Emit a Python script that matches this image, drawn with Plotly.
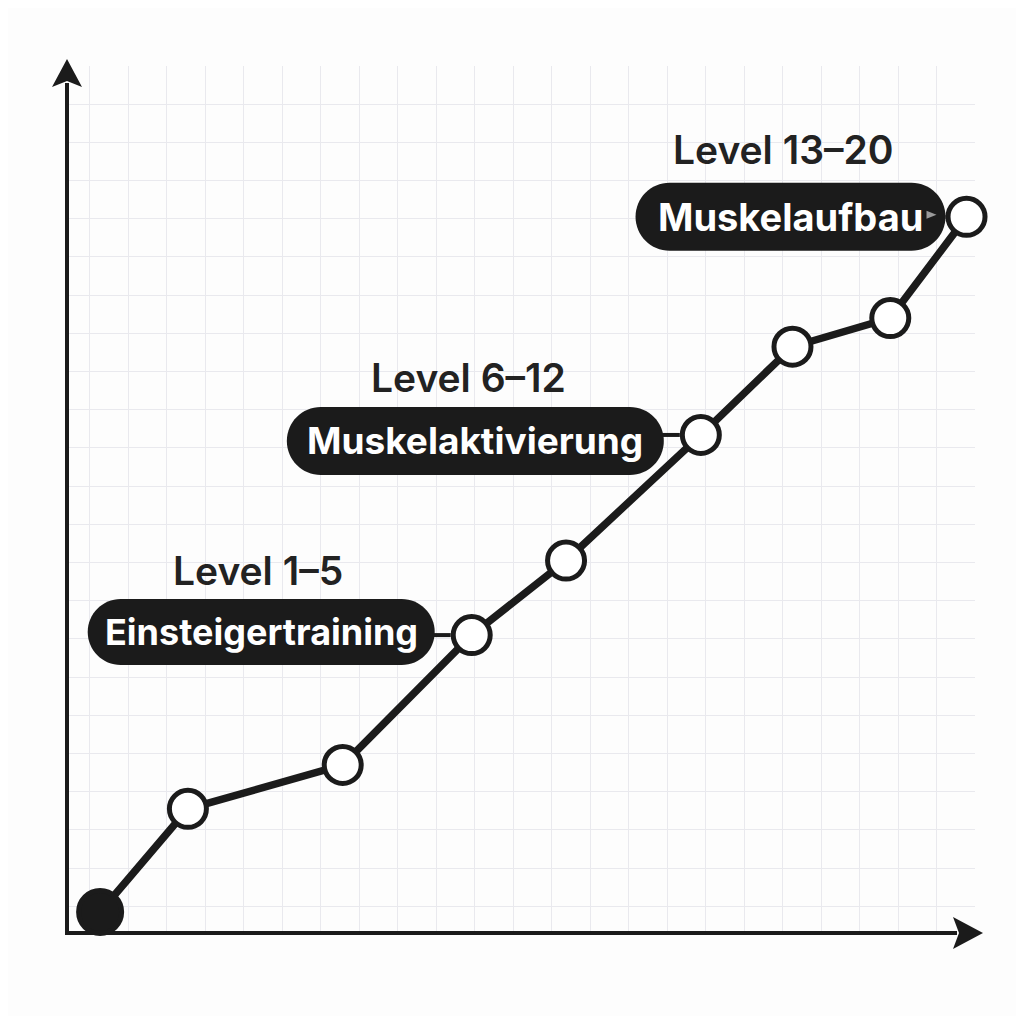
import plotly.graph_objects as go

# ---- data (grid units) ----
x_vals = [0.27, 2.55, 6.57, 9.92, 12.37, 15.87, 18.25, 20.79, 22.77]
y_vals = [-0.15, 2.55, 3.70, 7.10, 9.05, 12.34, 14.65, 15.40, 18.05]
stage_names = ["Einsteigertraining", "Muskelaktivierung", "Muskelaufbau"]
stage_levels = ["Level 1–5", "Level 6–12", "Level 13–20"]
stage_point_idx = [3, 5, 8]

INK = "#1b1b1b"
FONT = "Inter"

fig = go.Figure()

# line with open markers
fig.add_trace(go.Scatter(
    x=x_vals, y=y_vals, mode="lines+markers",
    line=dict(color=INK, width=7.5),
    marker=dict(size=[43] + [37] * (len(x_vals) - 1),
                color=[INK] + ["white"] * (len(x_vals) - 1),
                opacity=1,
                line=dict(color=INK, width=5)),
    cliponaxis=False, hoverinfo="skip", showlegend=False,
))

def pill_path(L, R, yc, h):
    r = h
    k = 0.5523 * r
    return (f"M {L+r},{yc+h} L {R-r},{yc+h} "
            f"C {R-r+k},{yc+h} {R},{yc+k} {R},{yc} "
            f"C {R},{yc-k} {R-r+k},{yc-h} {R-r},{yc-h} "
            f"L {L+r},{yc-h} "
            f"C {L+r-k},{yc-h} {L},{yc-k} {L},{yc} "
            f"C {L},{yc+k} {L+r-k},{yc+h} {L+r},{yc+h} Z")

# pill geometry relative to the attached point (pixels; y up)
pill_geo = [  # (left, right, y-center, half-height)
    (-384, -37, 3, 33),
    (-414, -37, -6, 34),
    (-331, -21, 0, 34),
]
level_shift = [(-214, 65), (-232, 57), (-184, 67)]
name_sizes = [36, 37, 38]

shapes = []
annotations = []
for i, idx in enumerate(stage_point_idx):
    px, py = x_vals[idx], y_vals[idx]
    L, R, yc, h = pill_geo[i]
    shapes.append(dict(type="path", xref="x", yref="y",
                       xsizemode="pixel", ysizemode="pixel",
                       xanchor=px, yanchor=py,
                       path=pill_path(L, R, yc, h),
                       fillcolor=INK, line=dict(width=0), layer="above"))
    # connector
    shapes.append(dict(type="line", xref="x", yref="y",
                       xsizemode="pixel", ysizemode="pixel",
                       xanchor=px, yanchor=py,
                       x0=R - 2, x1=-21, y0=0, y1=0,
                       line=dict(color=INK, width=4), layer="above"))
    annotations.append(dict(x=px, y=py, xref="x", yref="y",
                            text=stage_names[i], showarrow=False,
                            xshift=(L + R) / 2, yshift=yc,
                            font=dict(family=FONT, size=name_sizes[i], color="white", weight=700)))
    annotations.append(dict(x=px, y=py, xref="x", yref="y",
                            text=stage_levels[i], showarrow=False,
                            xshift=level_shift[i][0], yshift=level_shift[i][1],
                            font=dict(family=FONT, size=39, color="#222222", weight=600)))

# small arrow tip on last connector
ix = stage_point_idx[2]
shapes.append(dict(type="path", xref="x", yref="y",
                   xsizemode="pixel", ysizemode="pixel",
                   xanchor=x_vals[ix], yanchor=y_vals[ix],
                   path="M -40,6 L -30,2 L -40,-2 Z",
                   fillcolor="#9a9a9a", line=dict(width=0), layer="above"))

# axes with arrowheads (pixel offsets from the plot origin)
shapes += [
    dict(type="line", xref="paper", yref="paper", xsizemode="pixel", ysizemode="pixel",
         xanchor=0, yanchor=0, x0=0, x1=0, y0=-2, y1=850,
         line=dict(color=INK, width=4), layer="above"),
    dict(type="path", xref="paper", yref="paper", xsizemode="pixel", ysizemode="pixel",
         xanchor=0, yanchor=0, path="M -15,846 L 0,874 L 15,846 L 0,852 Z",
         fillcolor=INK, line=dict(width=0), layer="above"),
    dict(type="line", xref="paper", yref="paper", xsizemode="pixel", ysizemode="pixel",
         xanchor=0, yanchor=0, x0=-2, x1=890, y0=0, y1=0,
         line=dict(color=INK, width=4), layer="above"),
    dict(type="path", xref="paper", yref="paper", xsizemode="pixel", ysizemode="pixel",
         xanchor=0, yanchor=0, path="M 886,16 L 916,0 L 886,-16 L 892,0 Z",
         fillcolor=INK, line=dict(width=0), layer="above"),
]

fig.update_layout(
    width=1008, height=1008,
    margin=dict(l=59, r=41, t=58, b=83),
    paper_bgcolor="#fdfdfd", plot_bgcolor="#fdfdfd",
    shapes=shapes, annotations=annotations,
    showlegend=False,
)
fig.update_xaxes(range=[-0.59, 22.99], dtick=1, tick0=0, showticklabels=False,
                 showgrid=True, gridcolor="#e9e9ee", gridwidth=1.2,
                 zeroline=False, showline=False, ticks="")
fig.update_yaxes(range=[-0.7, 22.0], dtick=1, tick0=0, showticklabels=False,
                 showgrid=True, gridcolor="#e9e9ee", gridwidth=1.2,
                 zeroline=False, showline=False, ticks="")

fig.write_html("out.html", config={"displayModeBar": False})
